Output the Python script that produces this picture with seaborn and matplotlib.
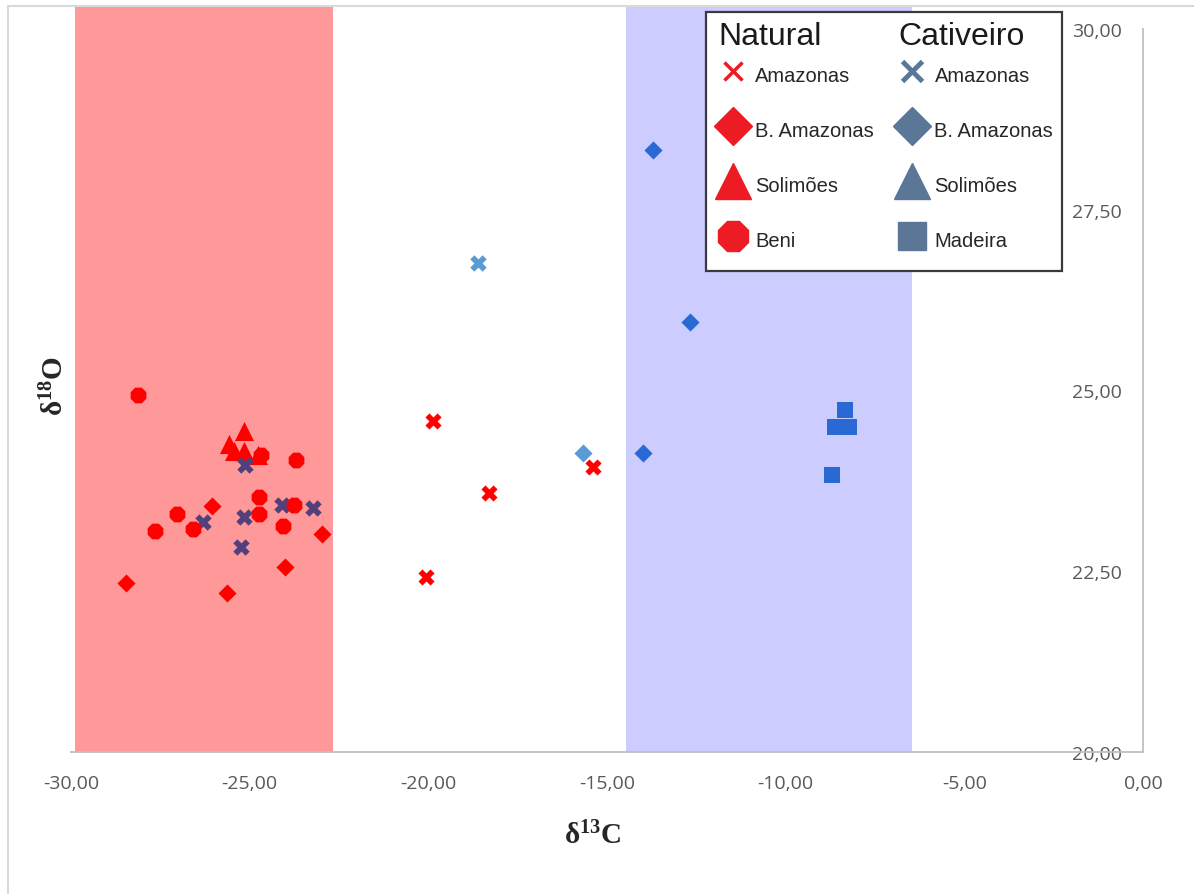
import matplotlib.pyplot as plt
import numpy as np
import pandas as pd
import seaborn as sns
from matplotlib.lines import Line2D
from matplotlib.patches import Rectangle
from matplotlib.ticker import FuncFormatter

# delta 13C (x) and delta 18O (y) per group
nat_amazonas_c = [-19.86, -18.29, -15.38, -20.06]
nat_amazonas_o = [24.57, 23.58, 23.94, 22.42]
nat_bamazonas_c = [-26.05, -22.98, -24.01, -28.46, -25.64]
nat_bamazonas_o = [23.40, 23.01, 22.56, 22.33, 22.20]
nat_solimoes_c = [-25.16, -25.59, -25.44, -25.16, -24.77]
nat_solimoes_o = [24.44, 24.26, 24.16, 24.16, 24.11]
nat_beni_c = [-28.12, -24.68, -23.70, -24.75, -24.75, -23.75, -24.08, -27.02, -27.64, -26.59]
nat_beni_o = [24.93, 24.10, 24.04, 23.52, 23.29, 23.42, 23.12, 23.29, 23.06, 23.08]

# cativeiro: points inside the C3 band are drawn darker (purple), as in the original
cat_amazonas_c = [-18.60]
cat_amazonas_o = [26.76]
cat_amazonas_c3_c = [-25.13, -26.30, -25.15, -24.10, -23.22, -25.24]
cat_amazonas_c3_o = [23.97, 23.18, 23.25, 23.41, 23.38, 22.83]
cat_bamazonas_c = [-15.66]
cat_bamazonas_o = [24.13]
cat_bamazonas_c4_c = [-13.72, -12.68, -13.98]
cat_bamazonas_c4_o = [28.32, 25.95, 24.13]
cat_madeira_c = [-8.33, -8.61, -8.22, -8.70]
cat_madeira_o = [24.73, 24.50, 24.50, 23.83]

# shaded ranges (C3 and C4 plants)
band_c3 = (-29.89, -22.67)
band_c4 = (-14.47, -6.46)

x_ticks = [-30, -25, -20, -15, -10, -5, 0]
y_ticks = [20, 22.5, 25, 27.5, 30]

sns.set_style("white")
plt.rcParams['font.family'] = ['Open Sans', 'DejaVu Sans']
plt.rcParams['mathtext.fontset'] = 'custom'
plt.rcParams['mathtext.rm'] = 'Liberation Serif'
plt.rcParams['mathtext.bf'] = 'Liberation Serif:bold'

RED = '#FF0000'
PURPLE = '#52407C'
LIGHT_BLUE = '#5B9BD5'
DARK_BLUE = '#2A68D4'

W, H = 1194, 895
fig = plt.figure(figsize=(W / 100, H / 100), dpi=100)
ax = fig.add_axes([71 / W, 1 - 753 / H, (1143 - 71) / W, (753 - 8) / H])

ax.axvspan(*band_c3, color='#FF9999', lw=0, zorder=0)
ax.axvspan(*band_c4, color='#CCCCFF', lw=0, zorder=0)

series = [
    (nat_solimoes_c, nat_solimoes_o, '^', RED, 190),
    (cat_amazonas_c3_c, cat_amazonas_c3_o, 'X', PURPLE, 140),
    (nat_beni_c, nat_beni_o, '8', RED, 150),
    (nat_bamazonas_c, nat_bamazonas_o, 'D', RED, 85),
    (nat_amazonas_c, nat_amazonas_o, 'X', RED, 135),
    (cat_amazonas_c, cat_amazonas_o, 'X', LIGHT_BLUE, 140),
    (cat_bamazonas_c, cat_bamazonas_o, 'D', LIGHT_BLUE, 85),
    (cat_bamazonas_c4_c, cat_bamazonas_c4_o, 'D', DARK_BLUE, 85),
    (cat_madeira_c, cat_madeira_o, 's', DARK_BLUE, 135),
]
for xs, ys, mk, col, size in series:
    df = pd.DataFrame({'d13C': xs, 'd18O': ys})
    sns.scatterplot(data=df, x='d13C', y='d18O', marker=mk, color=col, s=size,
                    linewidth=0, ax=ax, zorder=3, legend=False)

ax.set_xlim(-30, 0)
ax.set_ylim(20, 30.3)
ax.set_xticks(x_ticks)
ax.set_yticks(y_ticks)
fmt = FuncFormatter(lambda v, p: f"{v:.2f}".replace('.', ','))
ax.xaxis.set_major_formatter(fmt)
ax.yaxis.set_major_formatter(fmt)
ax.set_xlabel('')
ax.set_ylabel('')

ax.spines['top'].set_visible(False)
ax.spines['right'].set_visible(False)
ax.spines['left'].set_position(('data', 0))
ax.spines['left'].set_bounds(20, 30)
ax.spines['bottom'].set_bounds(-30, 0)
for s in ('left', 'bottom'):
    ax.spines[s].set_color('#BFBFBF')
    ax.spines[s].set_linewidth(1.3)
    ax.spines[s].set_zorder(1)
ax.tick_params(axis='both', length=0, labelsize=14, labelcolor='#595959')
ax.tick_params(axis='y', pad=15)
ax.tick_params(axis='x', pad=16)

fig.text(593 / W, 1 - 837 / H, r'$\mathbf{δ^{13}C}$', fontsize=21,
         ha='center', va='center', color='#262626')
fig.text(56 / W, 1 - 386 / H, r'$\mathbf{δ^{18}O}$', fontsize=21, rotation=90,
         ha='center', va='center', color='#262626')

# legend: framed box with two column headers
LEG_RED = '#ED1C24'
LEG_BLUE = '#5B7696'
ax.add_patch(Rectangle((706 / W, 1 - 272 / H), 356 / W, 259 / H, transform=fig.transFigure,
                       facecolor='white', edgecolor='#3A3A3A', lw=1.6, zorder=4, clip_on=False))
handles = [
    Line2D([], [], ls='none', marker='x', ms=13, mew=2.5, color=LEG_RED),
    Line2D([], [], ls='none', marker='D', ms=19, color=LEG_RED),
    Line2D([], [], ls='none', marker='^', ms=26, color=LEG_RED),
    Line2D([], [], ls='none', marker='8', ms=24, color=LEG_RED),
    Line2D([], [], ls='none', marker='x', ms=14, mew=3.5, color=LEG_BLUE),
    Line2D([], [], ls='none', marker='D', ms=19, color=LEG_BLUE),
    Line2D([], [], ls='none', marker='^', ms=26, color=LEG_BLUE),
    Line2D([], [], ls='none', marker='s', ms=20, color=LEG_BLUE),
]
labels = ['Amazonas', 'B. Amazonas', 'Solimões', 'Beni',
          'Amazonas', 'B. Amazonas', 'Solimões', 'Madeira']
leg = ax.legend(handles, labels, ncol=2, loc='upper left', bbox_to_anchor=(713 / W, 1 - 62 / H),
                bbox_transform=fig.transFigure, frameon=False, borderpad=0, borderaxespad=0,
                handlelength=2.0, handleheight=1.6, handletextpad=0.1, labelspacing=1.45,
                columnspacing=0.9, prop={'family': 'Liberation Sans', 'size': 14.5})
leg.set_zorder(5)
for t in leg.get_texts():
    t.set_color('#262626')
for name, xp in (('Natural', 718), ('Cativeiro', 898)):
    ax.text(xp / W, 1 - 37 / H, name, transform=fig.transFigure, fontsize=23,
            family='Liberation Sans', color='#1A1A1A', ha='left', va='center', zorder=6)

# light frame of the original picture
fig.add_artist(Line2D([8 / W, 8 / W], [0, 1 - 7 / H], color='#D9D9D9', lw=1.5))
fig.add_artist(Line2D([8 / W, 1], [1 - 7 / H, 1 - 7 / H], color='#D9D9D9', lw=1.5))

fig.savefig('out.png', dpi=100)
